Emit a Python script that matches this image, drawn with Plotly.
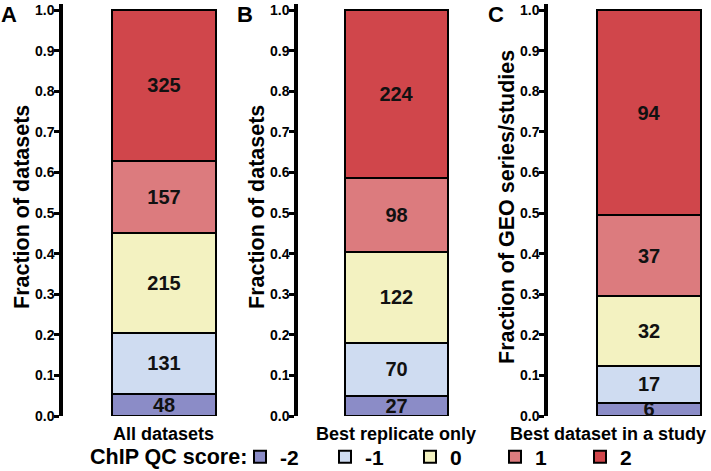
import plotly.graph_objects as go

# ---------------- data ----------------
scores = ["-2", "-1", "0", "1", "2"]
score_colors = ["#8b8cc7", "#cfdcf1", "#f3f2c1", "#dc7b7e", "#d0464b"]

panel_letters = ["A", "B", "C"]
panel_labels = ["All datasets", "Best replicate only", "Best dataset in a study"]
y_titles = ["Fraction of datasets", "Fraction of datasets", "Fraction of GEO series/studies"]
legend_title = "ChIP QC score:"

counts_all_datasets = [48, 131, 215, 157, 325]
counts_best_replicate = [27, 70, 122, 98, 224]
counts_best_in_study = [6, 17, 32, 37, 94]
panel_counts = [counts_all_datasets, counts_best_replicate, counts_best_in_study]

y_tick_vals = [0.0, 0.1, 0.2, 0.3, 0.4, 0.5, 0.6, 0.7, 0.8, 0.9, 1.0]

# ---------------- layout geometry ----------------
W, H = 711, 471
FONT = "Liberation Sans, Arial, sans-serif"

def px_x(p):
    return p / W

def px_y(p):
    return (H - p) / H

x_domains_px = [(63, 265), (298, 495), (548, 711)]
x_ranges = [[-0.971, 0.971], [-0.956, 0.956], [-0.971, 0.596]]
y_dom = [px_y(416), px_y(4)]
y_range = [0, 1.015]

fig = go.Figure()

for p, counts in enumerate(panel_counts):
    total = sum(counts)
    xa = "x" if p == 0 else f"x{p+1}"
    ya = "y" if p == 0 else f"y{p+1}"
    for i, s in enumerate(scores):
        frac = counts[i] / total
        fig.add_trace(go.Bar(
            x=[0], y=[frac], width=1,
            xaxis=xa, yaxis=ya,
            name=s, legendgroup=s, showlegend=(p == 0),
            marker=dict(color=score_colors[i], line=dict(color="black", width=2)),
            text=[str(counts[i])], textposition="inside", textangle=0,
            insidetextanchor="middle", constraintext="none",
            textfont=dict(family=FONT, size=20, color="#111111", weight="bold"),
            hoverinfo="skip",
        ))

layout = dict(
    width=W, height=H,
    margin=dict(l=0, r=0, t=0, b=0, autoexpand=False),
    barmode="stack",
    plot_bgcolor="white", paper_bgcolor="white",
    font=dict(family=FONT, color="black"),
    showlegend=True,
    legend=dict(
        orientation="h", traceorder="normal",
        x=px_x(240), xanchor="left", y=px_y(457), yanchor="middle",
        font=dict(family=FONT, size=21, weight="bold"),
        entrywidth=40, entrywidthmode="pixels",
        itemwidth=30, bgcolor="rgba(0,0,0,0)",
    ),
)

annotations = []
for p in range(3):
    sfx = "" if p == 0 else str(p + 1)
    d0, d1 = x_domains_px[p]
    layout["xaxis" + sfx] = dict(
        domain=[px_x(d0), px_x(d1)], range=x_ranges[p],
        showline=False, showticklabels=False, showgrid=False, zeroline=False,
        anchor="y" + sfx, fixedrange=True,
    )
    layout["yaxis" + sfx] = dict(
        domain=y_dom, range=y_range, anchor="x" + sfx,
        showline=True, linewidth=3.5, linecolor="black",
        ticks="outside", ticklen=5, tickwidth=3, tickcolor="black",
        tickvals=y_tick_vals, tickformat=".1f",
        tickfont=dict(family=FONT, size=14, color="black", weight="bold"),
        ticklabelstandoff=-3,
        showgrid=False, zeroline=False, fixedrange=True,
    )

# panel letters, y titles, x labels
letter_x = [9, 245, 496]
title_x = [22, 257, 507]
label_x = [163, 396, 608]
for p in range(3):
    annotations.append(dict(
        text=panel_letters[p], x=px_x(letter_x[p]), y=px_y(15), xref="paper", yref="paper",
        showarrow=False, xanchor="center", yanchor="middle",
        font=dict(family=FONT, size=22, weight="bold", color="black")))
    annotations.append(dict(
        text=y_titles[p], x=px_x(title_x[p]), y=px_y(207),
        xref="paper", yref="paper", textangle=-90,
        showarrow=False, xanchor="center", yanchor="middle",
        font=dict(family=FONT, size=21.5, weight="bold", color="black")))
    annotations.append(dict(
        text=panel_labels[p], x=px_x(label_x[p]), y=px_y(434), xref="paper", yref="paper",
        showarrow=False, xanchor="center", yanchor="middle",
        font=dict(family=FONT, size=18, weight="bold", color="black")))

annotations.append(dict(
    text=legend_title, x=px_x(88), y=px_y(457), xref="paper", yref="paper",
    showarrow=False, xanchor="left", yanchor="middle",
    font=dict(family=FONT, size=21.5, weight="bold", color="black")))

layout["annotations"] = annotations
fig.update_layout(**layout)
fig.write_html("out.html", config={"displayModeBar": False},
               post_script="document.body.style.margin='0';")
